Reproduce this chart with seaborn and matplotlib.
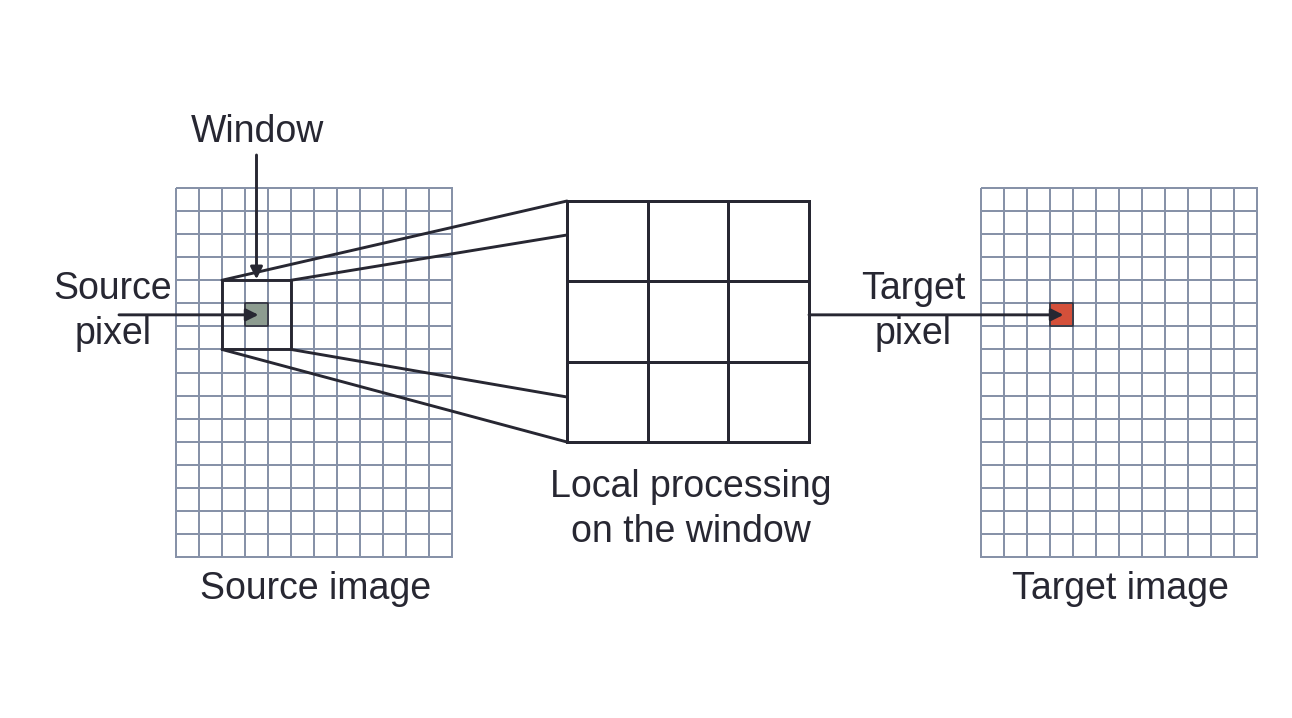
import numpy as np
import seaborn as sns
import matplotlib.pyplot as plt
from matplotlib.colors import ListedColormap
from matplotlib.patches import Rectangle

# grid structure of the diagram
n_rows = 16
n_cols = 12
window_size = 3
source_pixel = (5, 3)   # (row, col)
target_pixel = (5, 3)

labels_source = ["Source", "pixel"]
labels_target = ["Target", "pixel"]
label_window = "Window"
labels_local = ["Local processing", "on the window"]
label_source_img = "Source image"
label_target_img = "Target image"

W, H = 1292, 718
dark = "#272732"
grid_col = "#8792a8"
src_fill = "#8d9c90"
tgt_fill = "#d4503a"

sns.set_theme(style="white")
plt.rcParams['font.family'] = ['Liberation Sans', 'DejaVu Sans']

fig = plt.figure(figsize=(W / 100, H / 100), dpi=100)


def px_axes(x0, y0, x1, y1):
    return fig.add_axes([x0 / W, 1 - y1 / H, (x1 - x0) / W, (y1 - y0) / H])


def image_grid(x0, y0, x1, y1, pix, fill):
    ax = px_axes(x0, y0, x1, y1)
    data = np.zeros((n_rows, n_cols))
    data[pix] = 1
    sns.heatmap(data, ax=ax, cmap=ListedColormap(["white", fill]), vmin=0, vmax=1,
                cbar=False, linewidths=1.1, linecolor=grid_col,
                xticklabels=False, yticklabels=False)
    ax.collections[0].set_clip_on(False)
    ax.add_patch(Rectangle((pix[1], pix[0]), 1, 1, fill=False, edgecolor=dark, lw=1.1, zorder=5))
    return ax


# source and target images
sx0, sy0, sx1, sy1 = 176, 188, 452, 557
tx0, ty0, tx1, ty1 = 981, 188, 1257, 557
image_grid(sx0, sy0, sx1, sy1, source_pixel, src_fill)
image_grid(tx0, ty0, tx1, ty1, target_pixel, tgt_fill)

# enlarged window
bx0, by0, bx1, by1 = 567, 201, 809, 442
axb = px_axes(bx0, by0, bx1, by1)
sns.heatmap(np.zeros((window_size, window_size)), ax=axb, cmap=ListedColormap(["white"]),
            cbar=False, linewidths=2.0, linecolor=dark, xticklabels=False, yticklabels=False)
axb.collections[0].set_clip_on(False)

# overlay in pixel coordinates
ax = fig.add_axes([0, 0, 1, 1])
ax.set_xlim(0, W)
ax.set_ylim(H, 0)
ax.axis("off")
ax.patch.set_visible(False)

cw = (sx1 - sx0) / n_cols
ch = (sy1 - sy0) / n_rows
r0 = source_pixel[0] - window_size // 2
c0 = source_pixel[1] - window_size // 2
wx0, wy0 = sx0 + c0 * cw, sy0 + r0 * ch
wx1, wy1 = wx0 + window_size * cw, wy0 + window_size * ch
ax.add_patch(Rectangle((wx0, wy0), wx1 - wx0, wy1 - wy0, fill=False, edgecolor=dark, lw=2.1))

lw = 2.1
ax.plot([wx0, bx0], [wy0, by0], color=dark, lw=lw, solid_capstyle="round")
ax.plot([wx1, bx0], [wy0, 235], color=dark, lw=lw, solid_capstyle="round")
ax.plot([wx1, bx0], [wy1, 397], color=dark, lw=lw, solid_capstyle="round")
ax.plot([wx0, bx0], [wy1, by1], color=dark, lw=lw, solid_capstyle="round")

arrow = dict(arrowstyle="-|>", color=dark, lw=lw, mutation_scale=18, shrinkA=0, shrinkB=0)
spx = sx0 + (source_pixel[1] + 0.5) * cw
spy = sy0 + (source_pixel[0] + 0.5) * ch
ax.annotate("", xy=(spx + 2, spy), xytext=(119, spy), arrowprops=arrow)
ax.annotate("", xy=(spx, wy0 - 1), xytext=(spx, 155), arrowprops=arrow)
tpx = tx0 + (target_pixel[1] + 0.5) * cw
ax.annotate("", xy=(tpx + 2, spy), xytext=(bx1, spy), arrowprops=arrow)

fs = 27
ax.text(258, 142, label_window, ha="center", va="baseline", fontsize=fs, color=dark)
for i, t in enumerate(labels_source):
    ax.text(113, 299 + 45 * i, t, ha="center", va="baseline", fontsize=fs, color=dark)
for i, t in enumerate(labels_target):
    ax.text(913, 299 + 45 * i, t, ha="center", va="baseline", fontsize=fs, color=dark)
for i, t in enumerate(labels_local):
    ax.text(691, 497 + 45 * i, t, ha="center", va="baseline", fontsize=fs, color=dark)
ax.text(316, 599, label_source_img, ha="center", va="baseline", fontsize=fs, color=dark)
ax.text(1120, 599, label_target_img, ha="center", va="baseline", fontsize=fs, color=dark)

fig.savefig("out.png", dpi=100)
